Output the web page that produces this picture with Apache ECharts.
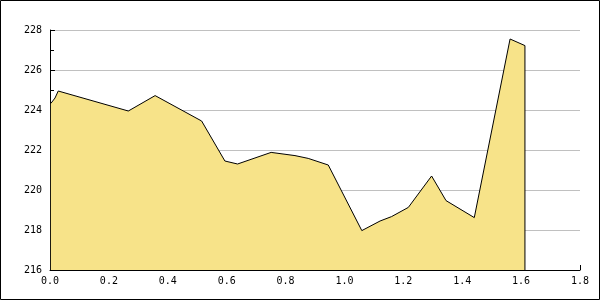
<!DOCTYPE html>
<html><head><meta charset="utf-8">
<script src="https://cdn.jsdelivr.net/npm/echarts@6/dist/echarts.min.js"></script>
<style>html,body{margin:0;padding:0;background:#fff}#c{width:600px;height:300px}</style>
</head><body><div id="c"></div>
<script>
const xValues = [0.003, 0.017, 0.028, 0.266, 0.357, 0.515, 0.594, 0.637, 0.751, 0.832, 0.877, 0.945, 1.059, 1.121, 1.160, 1.217, 1.296, 1.345, 1.441, 1.5625, 1.613, 1.613];
const yValues = [224.33, 224.6, 224.95, 223.95, 224.72, 223.45, 221.45, 221.3, 221.88, 221.72, 221.58, 221.25, 217.97, 218.45, 218.67, 219.13, 220.7, 219.47, 218.62, 227.55, 227.22, 216];
const yTicks = {min: 216, max: 228, step: 2};
const xTicks = {min: 0, max: 1.8, step: 0.2};

const chart = echarts.init(document.getElementById('c'), null, {renderer: 'canvas'});
const font = 'DejaVu Sans Mono';
chart.setOption({
  animation: false,
  backgroundColor: '#fff',
  grid: {left: 50, right: 20, top: 30, bottom: 30},
  xAxis: {
    type: 'value', min: xTicks.min, max: xTicks.max, interval: xTicks.step,
    axisLine: {show: true, lineStyle: {color: '#000', width: 1}},
    axisTick: {show: true, inside: true, length: 5, lineStyle: {color: '#000'}},
    axisLabel: {color: '#000', fontFamily: font, fontSize: 10, margin: 6, formatter: v => v.toFixed(1)},
    splitLine: {show: false}
  },
  yAxis: {
    type: 'value', min: yTicks.min, max: yTicks.max, interval: yTicks.step,
    axisLine: {show: true, lineStyle: {color: '#000', width: 1}},
    axisTick: {show: true, inside: true, length: 5, lineStyle: {color: '#000'}},
    minorTick: {show: true, splitNumber: 2, length: 4, lineStyle: {color: '#000'}},
    axisLabel: {color: '#000', fontFamily: font, fontSize: 10, margin: 8},
    splitLine: {show: true, lineStyle: {color: '#c0c0c0', width: 1}}
  },
  series: [{
    type: 'line',
    data: xValues.map((x, i) => [x, yValues[i]]),
    symbol: 'none',
    lineStyle: {color: '#000', width: 1},
    areaStyle: {color: '#F7E389', opacity: 1, origin: 'start'},
    z: 3
  }],
  graphic: [{
    type: 'rect', shape: {x: 0.5, y: 0.5, width: 599, height: 299},
    style: {fill: null, stroke: '#000', lineWidth: 1}, z: 100
  }]
});
</script></body></html>
